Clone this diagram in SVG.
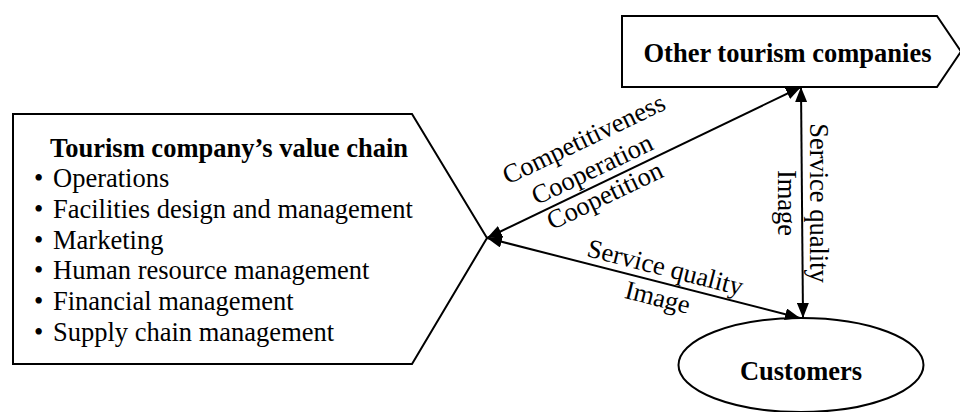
<svg xmlns="http://www.w3.org/2000/svg" width="960" height="412" viewBox="0 0 960 412">
  <style>
    .shape { fill: #fff; stroke: #000; stroke-width: 2; }
    .txt { font-family: "Liberation Serif", "Times New Roman", serif; font-size: 26.5px; fill: #000; }
    .bold { font-weight: bold; }
    .mid { text-anchor: middle; }
    .link { fill: none; stroke: #000; stroke-width: 2; }
  </style>
  <defs>
    <marker id="arrow" viewBox="0 0 15 12" refX="15" refY="6" markerWidth="15" markerHeight="12" markerUnits="userSpaceOnUse" orient="auto-start-reverse">
      <path d="M0,0 L15,6 L0,12 z" fill="#000"/>
    </marker>
  </defs>
  <rect width="960" height="412" fill="#fff"/>

  <!-- value chain node -->
  <g id="value-chain">
    <polygon class="shape" points="13,114 412,114 487,238 412,364 13,364"/>
    <text class="txt bold" x="50" y="157">Tourism company’s value chain</text>
    <g class="txt">
      <text x="34" y="187">•</text><text x="53" y="187">Operations</text>
      <text x="34" y="217.8">•</text><text x="53" y="217.8">Facilities design and management</text>
      <text x="34" y="248.6">•</text><text x="53" y="248.6">Marketing</text>
      <text x="34" y="279.4">•</text><text x="53" y="279.4">Human resource management</text>
      <text x="34" y="310.2">•</text><text x="53" y="310.2">Financial management</text>
      <text x="34" y="341">•</text><text x="53" y="341">Supply chain management</text>
    </g>
  </g>

  <!-- other companies node -->
  <g id="other-companies">
    <polygon class="shape" points="622,16 937,16 961,51.5 937,87 622,87"/>
    <text class="txt bold mid" x="787.5" y="61.7">Other tourism companies</text>
  </g>

  <!-- customers node -->
  <g id="customers">
    <ellipse class="shape" cx="801" cy="365" rx="122.5" ry="47"/>
    <text class="txt bold mid" x="801" y="380">Customers</text>
  </g>

  <!-- connectors -->
  <g id="connectors">
    <line class="link" x1="487" y1="238" x2="801" y2="87" marker-start="url(#arrow)" marker-end="url(#arrow)"/>
    <line class="link" x1="801" y1="87" x2="803" y2="318" marker-start="url(#arrow)" marker-end="url(#arrow)"/>
    <line class="link" x1="487" y1="238" x2="800" y2="318" marker-start="url(#arrow)" marker-end="url(#arrow)"/>

    <g class="txt mid" transform="translate(644,163) rotate(-25.53)">
      <text x="-44" y="-39">Competitiveness</text>
      <text x="-49.5" y="-8">Cooperation</text>
      <text x="-49.5" y="21">Coopetition</text>
    </g>
    <g class="txt mid" transform="translate(643.5,278) rotate(14.34)">
      <text x="18.5" y="-7">Service quality</text>
      <text x="18.5" y="24">Image</text>
    </g>
    <text class="txt mid" transform="translate(810,203) rotate(90)">Service quality</text>
    <text class="txt mid" transform="translate(778,203) rotate(90)">Image</text>
  </g>
</svg>
